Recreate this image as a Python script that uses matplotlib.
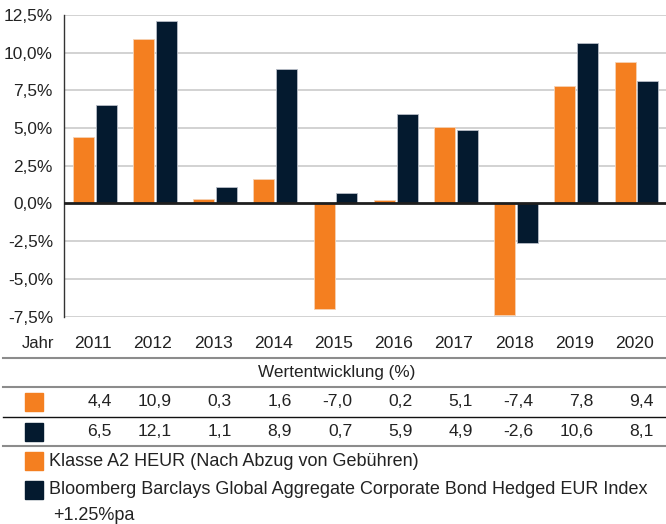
import matplotlib
matplotlib.use("Agg")
import matplotlib.pyplot as plt
from matplotlib.transforms import blended_transform_factory
from matplotlib.patches import Rectangle

plt.rcParams['font.family'] = ['Liberation Sans', 'DejaVu Sans']

years = ["2011", "2012", "2013", "2014", "2015", "2016", "2017", "2018", "2019", "2020"]
fund = [4.4, 10.9, 0.3, 1.6, -7.0, 0.2, 5.1, -7.4, 7.8, 9.4]
index = [6.5, 12.1, 1.1, 8.9, 0.7, 5.9, 4.9, -2.6, 10.6, 8.1]
yticks = [-7.5, -5.0, -2.5, 0.0, 2.5, 5.0, 7.5, 10.0, 12.5]
fund_label = "Klasse A2 HEUR (Nach Abzug von Gebühren)"
index_label = "Bloomberg Barclays Global Aggregate Corporate Bond Hedged EUR Index"
index_label2 = "+1.25%pa"
table_title = "Wertentwicklung (%)"
row_header = "Jahr"

ORANGE = "#F47F20"
NAVY = "#041A2F"
TXT = "#222222"

W, H = 666, 524
fig = plt.figure(figsize=(W / 100, H / 100), dpi=100)

def fy(py):
    return 1 - py / H

def fx(px):
    return px / W

ax_left, ax_right, ax_top, ax_bot = 64, 666, 14.8, 316.7
ax = fig.add_axes([fx(ax_left), fy(ax_bot), fx(ax_right - ax_left), (ax_bot - ax_top) / H])

x = list(range(len(years)))
bw = 0.35
ax.bar([i - 0.18 for i in x], fund, width=bw, color=ORANGE, edgecolor="#f6d2b4", linewidth=0.6, zorder=2)
ax.bar([i + 0.20 for i in x], index, width=bw, color=NAVY, edgecolor="#b8bec8", linewidth=0.6, zorder=2)

ax.set_xlim(-0.5, 9.5)
ax.set_ylim(-7.5, 12.5)
ax.set_yticks(yticks)
ax.set_yticklabels([f"{v:.1f}%".replace(".", ",") for v in yticks], fontsize=12.4, color=TXT)
ax.tick_params(axis='y', length=0, pad=8)
ax.set_xticks([])
for yv in yticks:
    if yv != 0:
        ax.axhline(yv, color="#cfcfcf", lw=1.3, zorder=1)
ax.axhline(0, color="#1e1e1e", lw=2.0, zorder=3)
for s in ["top", "right", "bottom"]:
    ax.spines[s].set_visible(False)
ax.spines["left"].set_color("#333333")
ax.spines["left"].set_linewidth(1.0)

tr = blended_transform_factory(ax.transData, fig.transFigure)

# Year row
fig.text(fx(38), fy(344), row_header, ha="center", va="center", fontsize=12, color=TXT)
for i, yr in enumerate(years):
    ax.text(i + 0.30, fy(344), yr, transform=tr, ha="right", va="center", fontsize=12.6, color=TXT)

# Lines of the table
def hline(py, color, lw):
    fig.add_artist(plt.Line2D([fx(3), 1.0], [fy(py), fy(py)], color=color, lw=lw, transform=fig.transFigure))

hline(357.7, "#8c8c8c", 1.5)
hline(387, "#8c8c8c", 1.5)
hline(416.7, "#111111", 1.0)
hline(445.7, "#8c8c8c", 1.5)

fig.text(0.505, fy(372), table_title, ha="center", va="center", fontsize=12.3, color=TXT)

def square(px, py, color):
    fig.add_artist(Rectangle((fx(px), fy(py + 17.5)), fx(17.5), 17.5 / H, color=color,
                             transform=fig.transFigure))

square(25, 393, ORANGE)
square(25, 423, NAVY)
for i in x:
    ax.text(i + 0.29, fy(402), f"{fund[i]:.1f}".replace(".", ","), transform=tr, ha="right",
            va="center", fontsize=12.6, color=TXT)
    ax.text(i + 0.29, fy(432), f"{index[i]:.1f}".replace(".", ","), transform=tr, ha="right",
            va="center", fontsize=12.6, color=TXT)

# Legend
square(25, 452, ORANGE)
fig.text(fx(49), fy(461), fund_label, ha="left", va="center", fontsize=13, color=TXT)
square(25, 481, NAVY)
fig.text(fx(49), fy(490), index_label, ha="left", va="center", fontsize=13, color=TXT)
fig.text(fx(53), fy(516), index_label2, ha="left", va="center", fontsize=13, color=TXT)

fig.savefig("out.png", dpi=100)
